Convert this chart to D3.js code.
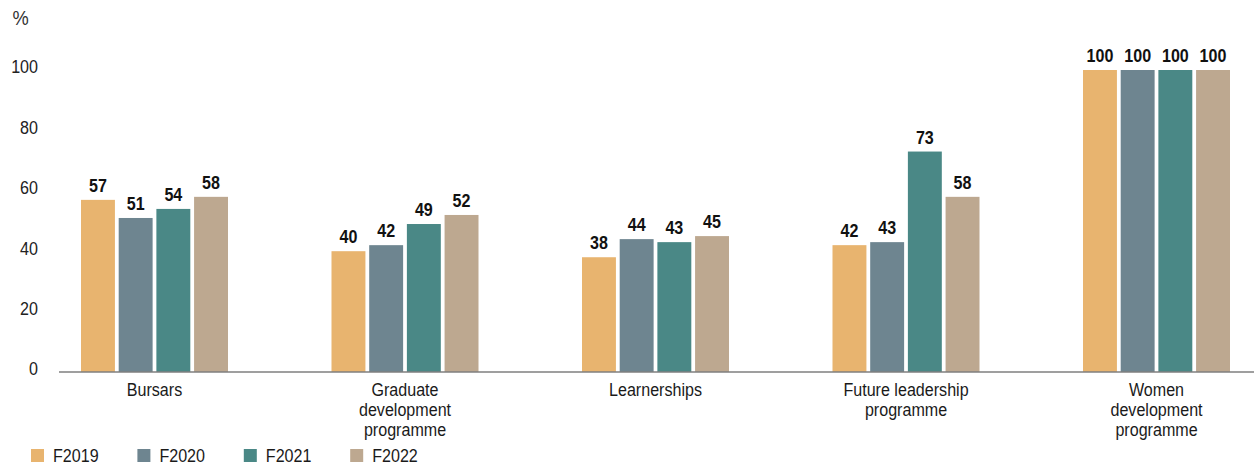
<!DOCTYPE html>
<html>
<head>
<meta charset="utf-8">
<script src="https://cdn.jsdelivr.net/npm/d3@7"></script>
<style>
  html, body { margin: 0; padding: 0; background: #fff; }
  svg { display: block; font-family: "Liberation Sans", Arial, sans-serif; }
</style>
</head>
<body>
<svg id="chart" width="1254" height="465"></svg>
<script>
// Programme categories (line breaks mark wrapped axis labels)
const categories = [
  "Bursars",
  "Graduate\ndevelopment\nprogramme",
  "Learnerships",
  "Future leadership\nprogramme",
  "Women\ndevelopment\nprogramme"
];
const years = ["F2019", "F2020", "F2021", "F2022"];

// Percentage per programme, one array per financial year
const f2019 = [57, 40, 38, 42, 100];
const f2020 = [51, 42, 44, 43, 100];
const f2021 = [54, 49, 43, 73, 100];
const f2022 = [58, 52, 45, 58, 100];

const yTicks = [0, 20, 40, 60, 80, 100];
const colors = ["#e8b46f", "#6e8590", "#4a8886", "#bda890"];

const seriesValues = [f2019, f2020, f2021, f2022];

const FS = 18.5;     // text size
const NARROW = 0.87; // horizontal squeeze for a condensed look

const svg = d3.select("#chart");

const x0 = d3.scaleBand().domain(categories).range([29.25, 1281.75]).padding(0);
const x1 = d3.scaleBand().domain(years)
  .range([(x0.bandwidth() - 147) / 2, (x0.bandwidth() + 147) / 2])
  .paddingInner(0.1).paddingOuter(0);
const y = d3.scaleLinear().domain([0, 100]).range([372, 70]);
const color = d3.scaleOrdinal().domain(years).range(colors);

// Unit label
svg.append("text")
  .attr("transform", `translate(12.5,25) scale(${NARROW},1)`)
  .attr("font-size", 21).attr("fill", "#333")
  .text("%");

// Y axis labels only (no line or tick marks)
const yAxis = d3.axisLeft(y).tickValues(yTicks).tickSize(0).tickPadding(0);
const gy = svg.append("g").attr("transform", "translate(38,-3)").call(yAxis);
gy.select(".domain").remove();
gy.selectAll("text")
  .attr("font-size", FS)
  .attr("font-family", "'Liberation Sans', Arial, sans-serif")
  .attr("fill", "#222")
  .attr("transform", `scale(${NARROW},1)`);

// Bars
const groups = svg.append("g").selectAll("g")
  .data(categories)
  .join("g")
  .attr("transform", d => `translate(${x0(d)},0)`);

groups.selectAll("rect")
  .data((d, i) => years.map((yr, s) => ({ yr, v: seriesValues[s][i] })))
  .join("rect")
  .attr("x", d => x1(d.yr))
  .attr("width", x1.bandwidth())
  .attr("y", d => y(d.v))
  .attr("height", d => y(0) - y(d.v))
  .attr("fill", d => color(d.yr));

// Value labels
groups.selectAll("text.val")
  .data((d, i) => years.map((yr, s) => ({ yr, v: seriesValues[s][i] })))
  .join("text")
  .attr("class", "val")
  .attr("transform", d =>
    `translate(${x1(d.yr) + x1.bandwidth() / 2},${y(d.v) - 8}) scale(${NARROW},1)`)
  .attr("text-anchor", "middle")
  .attr("font-size", FS)
  .attr("font-weight", "bold")
  .attr("fill", "#111")
  .text(d => d.v);

// Baseline
svg.append("line")
  .attr("x1", 59).attr("x2", 1254)
  .attr("y1", y(0)).attr("y2", y(0))
  .attr("stroke", "#7f7f7f").attr("stroke-width", 1.6);

// Category labels
const xAxis = d3.axisBottom(x0).tickSize(0).tickFormat("");
const gx = svg.append("g").attr("transform", `translate(0,${y(0)})`).call(xAxis);
gx.select(".domain").remove();
gx.selectAll(".tick").each(function(d) {
  const t = d3.select(this).append("text")
    .attr("text-anchor", "middle")
    .attr("font-size", FS)
    .attr("font-family", "'Liberation Sans', Arial, sans-serif")
    .attr("fill", "#1a1a1a")
    .attr("transform", `scale(${NARROW},1)`)
    .attr("y", 24);
  d.split("\n").forEach((line, k) => {
    t.append("tspan").attr("x", 0).attr("dy", k === 0 ? 0 : 20).text(line);
  });
});

// Legend
const legend = svg.append("g").attr("transform", "translate(31,449)");
const li = legend.selectAll("g").data(years).join("g")
  .attr("transform", (d, i) => `translate(${i * 106.4},0)`);
li.append("rect").attr("width", 13).attr("height", 13).attr("fill", d => color(d));
li.append("text")
  .attr("transform", `translate(22,13) scale(${NARROW},1)`)
  .attr("font-size", FS).attr("fill", "#1a1a1a").text(d => d);
</script>
</body>
</html>
